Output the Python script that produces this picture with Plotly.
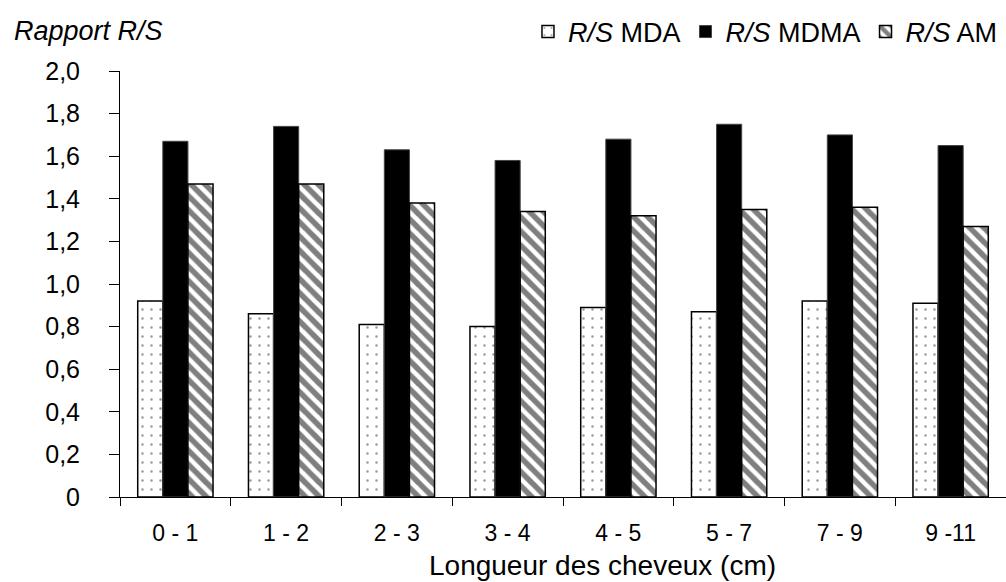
import plotly.graph_objects as go

categories = ["0 - 1", "1 - 2", "2 - 3", "3 - 4", "4 - 5", "5 - 7", "7 - 9", "9 -11"]
rs_mda = [0.92, 0.86, 0.81, 0.80, 0.89, 0.87, 0.92, 0.91]
rs_mdma = [1.67, 1.74, 1.63, 1.58, 1.68, 1.75, 1.70, 1.65]
rs_am = [1.47, 1.47, 1.38, 1.34, 1.32, 1.35, 1.36, 1.27]
y_tickvals = [0, 0.2, 0.4, 0.6, 0.8, 1.0, 1.2, 1.4, 1.6, 1.8, 2.0]
y_ticktext = ["0", "0,2", "0,4", "0,6", "0,8", "1,0", "1,2", "1,4", "1,6", "1,8", "2,0"]

FONT = "Liberation Sans, Arial, sans-serif"

fig = go.Figure()
fig.add_trace(go.Bar(
    x=categories, y=rs_mda, name="<i>R/S</i> MDA",
    marker=dict(color="white", line=dict(color="black", width=1.5),
                pattern=dict(shape=".", fgcolor="#333333", bgcolor="white", size=9, solidity=0.06)),
))
fig.add_trace(go.Bar(
    x=categories, y=rs_mdma, name="<i>R/S</i> MDMA",
    marker=dict(color="black", line=dict(color="#444444", width=1)),
))
fig.add_trace(go.Bar(
    x=categories, y=rs_am, name="<i>R/S</i> AM",
    marker=dict(color="white", line=dict(color="black", width=1.5),
                pattern=dict(shape="\\", fgcolor="black", bgcolor="white", size=10, solidity=0.55)),
))

cat_range = [-0.5, len(categories) - 0.5]

fig.update_layout(
    width=1006, height=582,
    margin=dict(l=120, r=0, t=71, b=85, autoexpand=False),
    paper_bgcolor="white", plot_bgcolor="white",
    font=dict(family=FONT, size=23, color="black"),
    barmode="group", bargap=0.32, bargroupgap=0,
    showlegend=True,
    legend=dict(orientation="h", x=0.997, xanchor="right", xref="container",
                y=1 - 32 / 582, yanchor="middle", yref="container",
                font=dict(size=27), itemwidth=30, traceorder="normal",
                tracegroupgap=0, bgcolor="rgba(0,0,0,0)"),
    xaxis=dict(
        type="category", categoryarray=categories, range=cat_range,
        showline=True, linecolor="black", linewidth=1,
        ticks="", tickfont=dict(size=23), showgrid=False,
        ticklabelstandoff=15,
    ),
    xaxis2=dict(
        type="category", categoryarray=categories, range=cat_range,
        overlaying="x", anchor="y", side="bottom",
        showline=False, showticklabels=False,
        ticks="outside", ticklen=8, tickcolor="black", tickwidth=1, tickson="boundaries",
        showgrid=False, tickvals=categories,
    ),
    yaxis=dict(
        range=[0, 2.0], tickvals=y_tickvals, ticktext=y_ticktext,
        showline=True, linecolor="black", linewidth=1,
        ticks="outside", ticklen=10, tickcolor="black",
        tickfont=dict(size=25), showgrid=False, zeroline=False,
        ticklabelstandoff=24,
    ),
    annotations=[
        dict(text="<i>Rapport R/S</i>", xref="paper", yref="paper",
             x=-120 / 886 + 12 / 886, y=1 + 40 / 426, xanchor="left", yanchor="middle",
             showarrow=False, font=dict(size=27, family=FONT, color="black")),
        dict(text="Longueur des cheveux (cm)", xref="paper", yref="paper",
             x=(602 - 120) / 886, y=-(565 - 497) / 426, xanchor="center", yanchor="middle",
             showarrow=False, font=dict(size=28, family=FONT, color="black")),
    ],
)

# invisible helper trace so the tick-only overlay axis is drawn
fig.add_trace(go.Scatter(x=categories, y=[None] * len(categories), xaxis="x2",
                         showlegend=False, hoverinfo="skip", mode="markers"))

fig.write_html("out.html", config={"displayModeBar": False},
               post_script="document.body.style.margin='0';document.body.style.padding='0';")
